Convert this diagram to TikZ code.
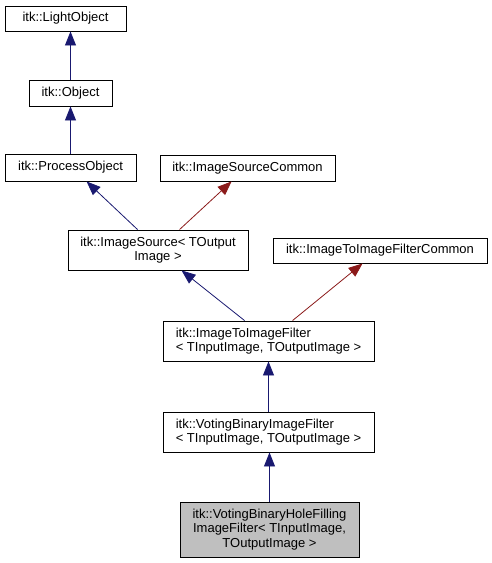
\documentclass[tikz,border=0pt]{standalone}
\usepackage{fontspec}
\setmainfont{Liberation Sans}
\usetikzlibrary{arrows.meta,calc}
\definecolor{edgeblue}{HTML}{191970}
\definecolor{edgered}{HTML}{8B1A1A}
\definecolor{boxgray}{HTML}{BFBFBF}
\begin{document}
\begin{tikzpicture}[x=1pt,y=-1pt,
  cls/.style={draw=black,fill=white,line width=0.9pt,inner sep=0pt,font=\fontsize{13}{14.5}\selectfont},
  pub/.style={edgeblue,line width=0.8pt,-{Triangle[length=14pt,width=11pt]}},
  prot/.style={edgered,line width=0.8pt,-{Triangle[length=14pt,width=11pt]}}]
\useasboundingbox (0,0) rectangle (492,563);
\node[cls,minimum width=121pt,minimum height=25pt] (light) at (65.5,18.5) {itk::LightObject};
\node[cls,minimum width=83pt,minimum height=26pt] (obj) at (70.5,93) {itk::Object};
\node[cls,minimum width=131pt,minimum height=27pt] (proc) at (70.5,167.5) {itk::ProcessObject};
\node[cls,minimum width=175pt,minimum height=26pt] (srccommon) at (247.5,168) {itk::ImageSourceCommon};
\node[cls,minimum width=180pt,minimum height=40pt,align=center] (src) at (158,250) {itk::ImageSource< TOutput\\Image >};
\node[cls,minimum width=214pt,minimum height=25pt] (filtcommon) at (380,250.5) {itk::ImageToImageFilterCommon};
\node[cls,minimum width=211pt,minimum height=40pt,align=left] (filt) at (268.5,341) {itk::ImageToImageFilter\\< TInputImage, TOutputImage >};
\node[cls,minimum width=211pt,minimum height=40pt,align=left] (voting) at (268.5,432) {itk::VotingBinaryImageFilter\\< TInputImage, TOutputImage >};
\node[cls,fill=boxgray,minimum width=179pt,minimum height=55pt,align=center] (hole) at (269.5,529.5) {itk::VotingBinaryHoleFilling\\ImageFilter< TInputImage,\\TOutputImage >};
% inheritance
\draw[pub] (obj.north) -- (obj.north |- light.south);
\draw[pub] (proc.north) -- (obj.south);
\draw[pub] ($(src.north west)+(70,0)$) -- ($(proc.south west)+(82,0)$);
\draw[prot] ($(src.north west)+(112,0)$) -- ($(srccommon.south west)+(72,0)$);
\draw[pub] ($(filt.north west)+(82,0)$) -- ($(src.south west)+(114,0)$);
\draw[prot] ($(filt.north west)+(130,0)$) -- ($(filtcommon.south west)+(90,0)$);
\draw[pub] (voting.north) -- (filt.south);
\draw[pub] (hole.north) -- (hole.north |- voting.south);
\end{tikzpicture}
\end{document}
